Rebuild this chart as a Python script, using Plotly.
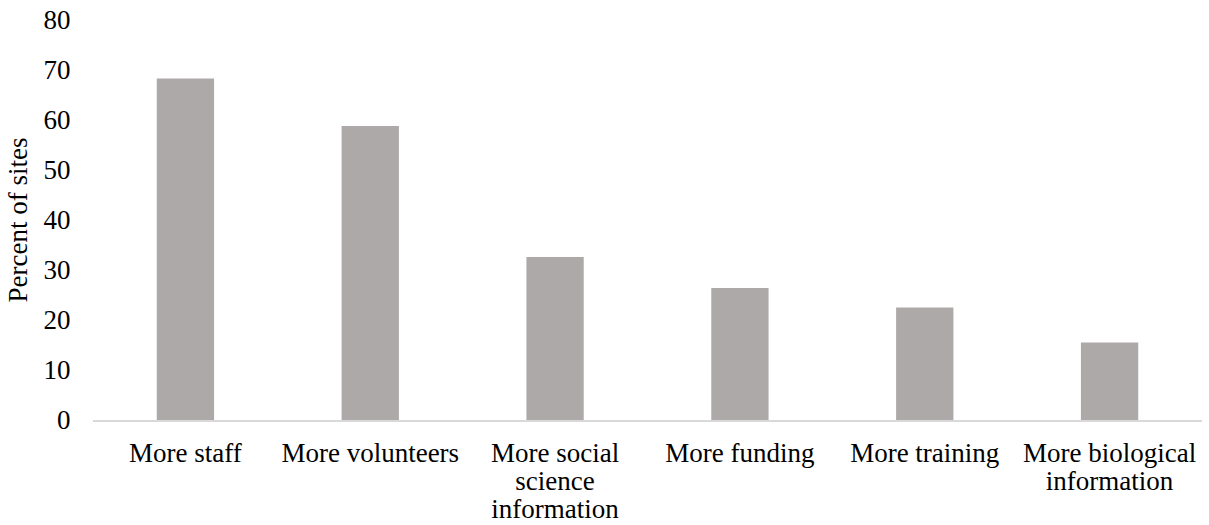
import plotly.graph_objects as go

categories = [
    "More staff",
    "More volunteers",
    "More social<br>science<br>information",
    "More funding",
    "More training",
    "More biological<br>information",
]
percent_of_sites = [68.3, 58.8, 32.6, 26.4, 22.5, 15.5]
y_ticks = [0, 10, 20, 30, 40, 50, 60, 70, 80]

FONT = "Liberation Serif"
FS = 27
# category labels wrap with tighter leading than the default 1.3 em:
# the text element is sized for the line step, each line is drawn at FS
LINE_BASE = 21.5


def tight_label(label):
    return "<br>".join(
        f'<span style="font-size:{FS}px">{part}</span>' for part in label.split("<br>")
    )


fig = go.Figure(
    go.Bar(
        x=categories,
        y=percent_of_sites,
        marker=dict(color="#ADA9A8", line=dict(width=0)),
    )
)

fig.update_layout(
    width=1209,
    height=525,
    margin=dict(l=93, r=7, t=20, b=105),
    paper_bgcolor="white",
    plot_bgcolor="white",
    bargap=0.69,
    showlegend=False,
    font=dict(family=FONT, size=FS, color="#000000"),
)

fig.update_xaxes(
    automargin=False,
    tickmode="array",
    tickvals=categories,
    ticktext=[tight_label(c) for c in categories],
    showline=True,
    linecolor="#D9D9D9",
    linewidth=2,
    showgrid=False,
    ticks="outside",
    ticklen=14,
    tickcolor="rgba(0,0,0,0)",
    tickfont=dict(family=FONT, size=LINE_BASE, color="#000000"),
)

fig.update_yaxes(
    automargin=False,
    range=[0, 80],
    tickvals=y_ticks,
    showgrid=False,
    zeroline=False,
    showline=False,
    ticks="outside",
    ticklen=16,
    tickcolor="rgba(0,0,0,0)",
    tickfont=dict(family=FONT, size=FS, color="#000000"),
    # trailing no-break spaces nudge the rotated title slightly lower
    title=dict(
        text="Percent of sites\u00a0\u00a0\u00a0",
        font=dict(family=FONT, size=FS, color="#000000"),
        standoff=8,
    ),
)

fig.write_html("out.html")
